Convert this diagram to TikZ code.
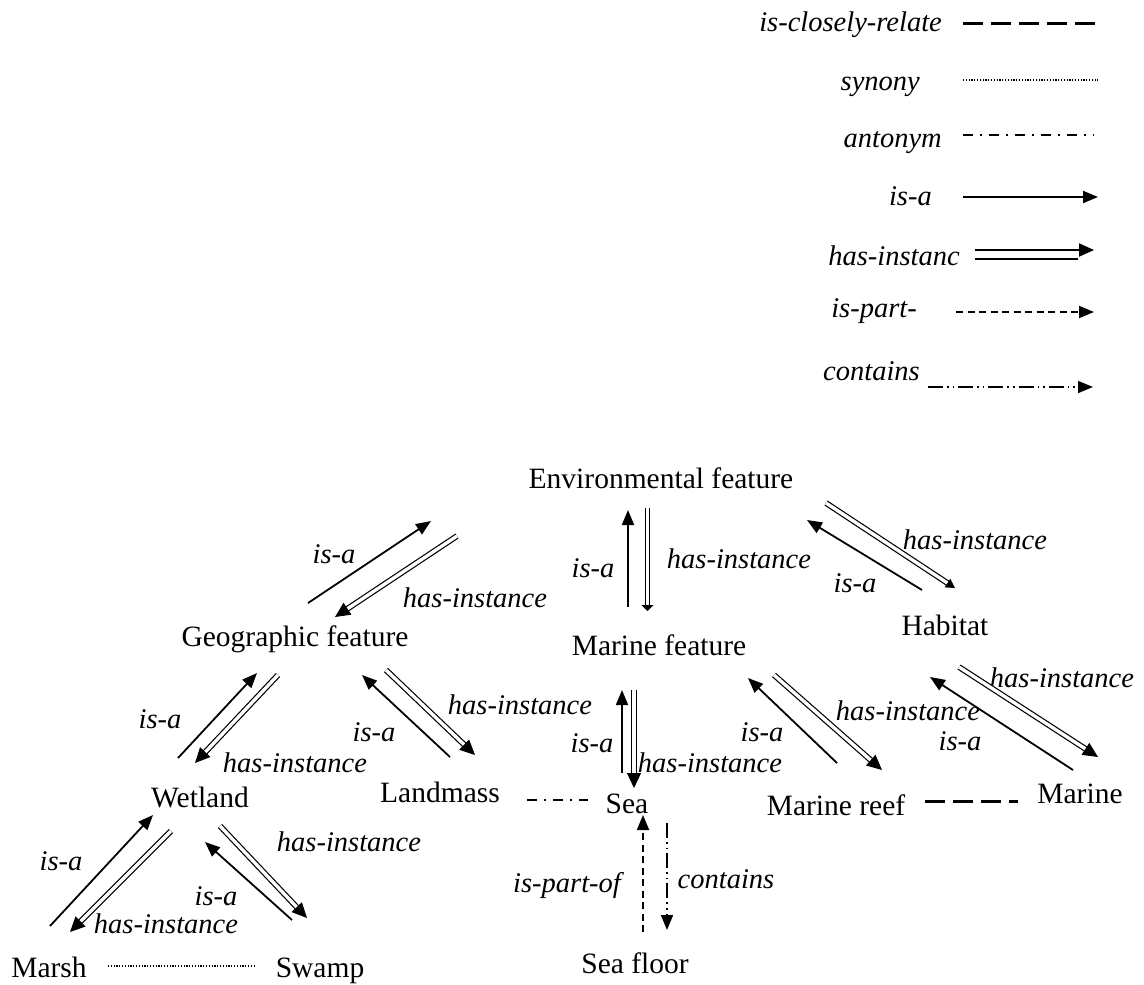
\documentclass[tikz,border=0pt]{standalone}
\usepackage{fontspec}
\setmainfont{Liberation Serif}
\usetikzlibrary{arrows.meta}

\begin{document}
\begin{tikzpicture}[x=1pt,y=-1pt,
  every node/.style={inner sep=0pt, font=\fontsize{29.5}{35}\selectfont},
  concept/.style={anchor=base},
  rel/.style={anchor=base, font=\fontsize{28.5}{34}\selectfont\itshape},
  tip/.style={-{Triangle[length=15pt,width=12pt]}},
  isa/.style={line width=1.8pt, tip},
  hasinst/.style={double, line width=1.2pt, double distance=3.4pt,
                  -{Triangle[length=15pt,width=14pt]}},
  closerel/.style={line width=3pt, dash pattern=on 20pt off 8pt},
  synrel/.style={line width=1.5pt, dash pattern=on 1.2pt off 1.6pt},
  antrel/.style={line width=2pt, dash pattern=on 10pt off 7pt on 2pt off 7pt},
  partrel/.style={line width=1.8pt, dash pattern=on 7pt off 4.5pt, tip},
  containrel/.style={line width=1.6pt,
                     dash pattern=on 15pt off 4pt on 1.6pt off 4pt on 1.6pt off 4pt, tip}
]
\useasboundingbox (0,0) rectangle (1144,985);

% ---------- key ----------
\node[rel, anchor=base east] (kclose) at (942,31) {is-closely-relate};
\node[rel, anchor=base east] (ksyn)   at (920,90) {synony};
\node[rel, anchor=base east] (kant)   at (942,147) {antonym};
\node[rel, anchor=base east] (kisa)   at (932,205) {is-a};
\node[rel, anchor=base east] (khas)   at (960,265) {has-instanc};
\node[rel, anchor=base east] (kpart)  at (917,317) {is-part-};
\node[rel, anchor=base east] (kcont)  at (920,380) {contains};

\coordinate (kclose-a) at (963,23);  \coordinate (kclose-b) at (1098,23);
\coordinate (ksyn-a)   at (963,80);  \coordinate (ksyn-b)   at (1098,80);
\coordinate (kant-a)   at (963,135); \coordinate (kant-b)   at (1094,135);
\coordinate (kisa-a)   at (963,197); \coordinate (kisa-b)   at (1098,197);
\coordinate (khas-a)   at (975,250); \coordinate (khas-b)   at (1094,250);
\coordinate (khas-c)   at (975,259); \coordinate (khas-d)   at (1078,259);
\coordinate (kpart-a)  at (956,312); \coordinate (kpart-b)  at (1094,312);
\coordinate (kcont-a)  at (928,387); \coordinate (kcont-b)  at (1093,387);

\draw[closerel] (kclose-a) -- (kclose-b);
\draw[synrel] (ksyn-a) -- (ksyn-b);
\draw[antrel] (kant-a) -- (kant-b);
\draw[isa, line width=2pt] (kisa-a) -- (kisa-b);
\draw[line width=2pt, -{Triangle[length=15pt,width=13pt]}] (khas-a) -- (khas-b);
\draw[line width=1.2pt] (khas-c) -- (khas-d);
\draw[partrel] (kpart-a) -- (kpart-b);
\draw[containrel] (kcont-a) -- (kcont-b);

% ---------- concepts ----------
\node[concept] (env)    at (661,488) {Environmental feature};
\node[concept] (geo)    at (295,646) {Geographic feature};
\node[concept] (mf)     at (659,655) {Marine feature};
\node[concept] (hab)    at (945,635) {Habitat};
\node[concept] (wet)    at (200,807) {Wetland};
\node[concept] (land)   at (440,802) {Landmass};
\node[concept] (sea)    at (627,813) {Sea};
\node[concept] (reef)   at (836,815) {Marine reef};
\node[concept] (marine) at (1080,803) {Marine};
\node[concept] (marsh)  at (49,977) {Marsh};
\node[concept] (swamp)  at (320,977) {Swamp};
\node[concept] (floor)  at (635,973) {Sea floor};

% ---------- relation labels ----------
\node[rel] (ge-isa)  at (334,563) {is-a};
\node[rel] (ge-has)  at (475,607) {has-instance};
\node[rel] (em-isa)  at (593,577) {is-a};
\node[rel] (em-has)  at (739,568) {has-instance};
\node[rel] (eh-has)  at (975,549) {has-instance};
\node[rel] (eh-isa)  at (855,592) {is-a};
\node[rel] (gw-isa)  at (160,728) {is-a};
\node[rel] (gw-has)  at (295,772) {has-instance};
\node[rel] (gl-isa)  at (374,741) {is-a};
\node[rel] (gl-has)  at (520,714) {has-instance};
\node[rel] (ms-isa)  at (592,752) {is-a};
\node[rel] (ms-has)  at (710,772) {has-instance};
\node[rel] (mr-isa)  at (762,741) {is-a};
\node[rel] (mr-has)  at (908,720) {has-instance};
\node[rel] (hm-has)  at (1062,687) {has-instance};
\node[rel] (hm-isa)  at (960,750) {is-a};
\node[rel] (wm-isa)  at (61,870) {is-a};
\node[rel] (wm-has)  at (166,933) {has-instance};
\node[rel] (ws-isa)  at (216,905) {is-a};
\node[rel] (ws-has)  at (349,851) {has-instance};
\node[rel] (sf-part) at (567,892) {is-part-of};
\node[rel] (sf-cont) at (726,888) {contains};

% ---------- connector ends ----------
\coordinate (ge-i1) at (308,603);  \coordinate (ge-i2) at (431,521);
\coordinate (ge-h1) at (457,536);  \coordinate (ge-h2) at (335,617);
\coordinate (em-i1) at (628,607);  \coordinate (em-i2) at (628,510);
\coordinate (em-h1) at (647.5,508);\coordinate (em-h2) at (647.5,611);
\coordinate (eh-i1) at (922,590);  \coordinate (eh-i2) at (807,520);
\coordinate (eh-h1) at (826,503);  \coordinate (eh-h2) at (955,588);
\coordinate (gw-i1) at (178,758);  \coordinate (gw-i2) at (257,673);
\coordinate (gw-h1) at (278,675);  \coordinate (gw-h2) at (195,763);
\coordinate (gl-i1) at (450,757);  \coordinate (gl-i2) at (362,675);
\coordinate (gl-h1) at (386,670);  \coordinate (gl-h2) at (475,755);
\coordinate (ms-i1) at (622,773);  \coordinate (ms-i2) at (622,690);
\coordinate (ms-h1) at (634,690);  \coordinate (ms-h2) at (634,788);
\coordinate (mr-i1) at (837,763);  \coordinate (mr-i2) at (748,678);
\coordinate (mr-h1) at (774,675);  \coordinate (mr-h2) at (882,770);
\coordinate (hm-i1) at (1073,770); \coordinate (hm-i2) at (930,677);
\coordinate (hm-h1) at (959,667);  \coordinate (hm-h2) at (1098,757);
\coordinate (wm-i1) at (50,926);   \coordinate (wm-i2) at (153,815);
\coordinate (wm-h1) at (171,831);  \coordinate (wm-h2) at (70,932);
\coordinate (ws-i1) at (292,920);  \coordinate (ws-i2) at (205,842);
\coordinate (ws-h1) at (220,826);  \coordinate (ws-h2) at (307,918);
\coordinate (sf-p1) at (643,932);  \coordinate (sf-p2) at (643,815);
\coordinate (sf-c1) at (667,823);  \coordinate (sf-c2) at (667,930);
\coordinate (ls-a)  at (527,800);  \coordinate (ls-b)  at (588,800);
\coordinate (mw-a)  at (108,966);  \coordinate (mw-b)  at (255,966);
\coordinate (rm-a)  at (925,801);  \coordinate (rm-b)  at (1018,801);

% ---------- connectors ----------
\draw[isa] (ge-i1) -- (ge-i2);
\draw[hasinst] (ge-h1) -- (ge-h2);
\draw[isa] (em-i1) -- (em-i2);
\draw[hasinst, -{Triangle[length=6pt,width=12pt]}] (em-h1) -- (em-h2);
\draw[isa] (eh-i1) -- (eh-i2);
\draw[hasinst, -{Triangle[length=9pt,width=10pt]}] (eh-h1) -- (eh-h2);
\draw[isa] (gw-i1) -- (gw-i2);
\draw[hasinst] (gw-h1) -- (gw-h2);
\draw[isa] (gl-i1) -- (gl-i2);
\draw[hasinst] (gl-h1) -- (gl-h2);
\draw[isa] (ms-i1) -- (ms-i2);
\draw[hasinst] (ms-h1) -- (ms-h2);
\draw[isa] (mr-i1) -- (mr-i2);
\draw[hasinst] (mr-h1) -- (mr-h2);
\draw[isa] (hm-i1) -- (hm-i2);
\draw[hasinst] (hm-h1) -- (hm-h2);
\draw[isa] (wm-i1) -- (wm-i2);
\draw[hasinst] (wm-h1) -- (wm-h2);
\draw[isa] (ws-i1) -- (ws-i2);
\draw[hasinst] (ws-h1) -- (ws-h2);
\draw[partrel] (sf-p1) -- (sf-p2);
\draw[containrel] (sf-c1) -- (sf-c2);
\draw[antrel] (ls-a) -- (ls-b);
\draw[synrel] (mw-a) -- (mw-b);
\draw[closerel] (rm-a) -- (rm-b);
\end{tikzpicture}
\end{document}
